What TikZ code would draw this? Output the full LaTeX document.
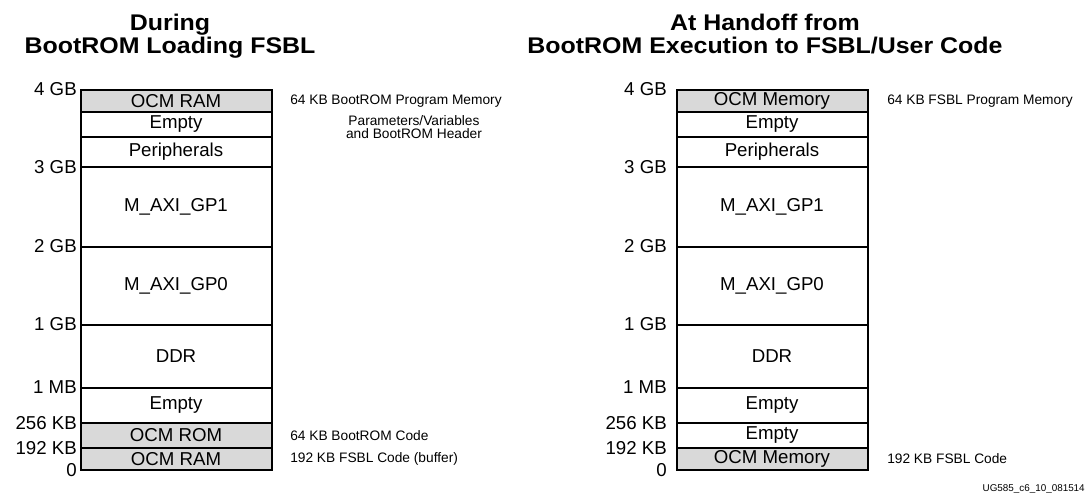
\documentclass[tikz,border=0pt]{standalone}
\usepackage{fontspec}
\setmainfont{Liberation Sans}
\definecolor{ocmgray}{HTML}{D9D9D9}
\tikzset{
  seg/.style={draw=black, line width=1.5pt, inner sep=0pt, outer sep=0pt,
    minimum width=143.25pt, font=\fontsize{14}{16}\selectfont},
  addr/.style={anchor=east, inner sep=0pt, font=\fontsize{14}{16}\selectfont},
  note/.style={anchor=west, inner sep=0pt, font=\fontsize{10.3}{12}\selectfont},
  ttl/.style={anchor=north, inner sep=0pt, font=\fontsize{17}{15.5}\selectfont\bfseries},
}
% \memseg{name}{xcenter}{ytop}{ybottom}{fill}{text}
\newcommand{\memseg}[6]{\node[seg, fill=#5, minimum height={(#4-#3)*0.75pt}] (#1) at (#2,{(#3+#4)/2}) {#6};}
\newcommand{\widetitle}[1]{\scalebox{1.1}[1]{\begin{tabular}{@{}c@{}}#1\end{tabular}}}
\begin{document}
\begin{tikzpicture}[x=0.75pt, y=-0.75pt]
\useasboundingbox (0,0) rectangle (1090,503);
% ---------- titles
\node[ttl] (tL) at (170,14) {\widetitle{During\\BootROM Loading FSBL}};
\node[ttl] (tR) at (765,14) {\widetitle{At Handoff from\\BootROM Execution to FSBL/User Code}};
% ---------- left memory map
\memseg{L1}{176}{90}{112}{ocmgray}{OCM RAM}
\memseg{L2}{176}{112}{137}{white}{Empty}
\memseg{L3}{176}{137}{167}{white}{Peripherals}
\memseg{L4}{176}{167}{246.5}{white}{M\_AXI\_GP1}
\memseg{L5}{176}{246.5}{324.5}{white}{M\_AXI\_GP0}
\memseg{L6}{176}{324.5}{387.5}{white}{DDR}
\memseg{L7}{176}{387.5}{423}{white}{Empty}
\memseg{L8}{176}{423}{448}{ocmgray}{OCM ROM}
\memseg{L9}{176}{448}{470}{ocmgray}{OCM RAM}
% ---------- right memory map
\memseg{R1}{772}{90}{112}{ocmgray}{OCM Memory}
\memseg{R2}{772}{112}{137}{white}{Empty}
\memseg{R3}{772}{137}{167}{white}{Peripherals}
\memseg{R4}{772}{167}{246.5}{white}{M\_AXI\_GP1}
\memseg{R5}{772}{246.5}{324.5}{white}{M\_AXI\_GP0}
\memseg{R6}{772}{324.5}{387.5}{white}{DDR}
\memseg{R7}{772}{387.5}{423}{white}{Empty}
\memseg{R8}{772}{423}{448}{white}{Empty}
\memseg{R9}{772}{448}{470}{ocmgray}{OCM Memory}
% ---------- address labels
\foreach \side/\xx in {L/77, R/667}{
  \node[addr] (\side a4g) at (\xx,89) {4 GB};
  \node[addr] (\side a3g) at (\xx,167) {3 GB};
  \node[addr] (\side a2g) at (\xx,246.5) {2 GB};
  \node[addr] (\side a1g) at (\xx,324.5) {1 GB};
  \node[addr] (\side a1m) at (\xx,387.5) {1 MB};
  \node[addr] (\side a256) at (\xx,423) {256 KB};
  \node[addr] (\side a192) at (\xx,448) {192 KB};
  \node[addr] (\side a0) at (\xx,470) {0};
}
% ---------- notes
\node[note] (nL1) at (290,101) {64 KB BootROM Program Memory};
\node[note, anchor=center, align=center, font=\fontsize{10.3}{9.75}\selectfont] (nL2) at (414,127.5) {Parameters/Variables\\and BootROM Header};
\node[note] (nL3) at (290,435.5) {64 KB BootROM Code};
\node[note] (nL4) at (290,459) {192 KB FSBL Code (buffer)};
\node[note] (nR1) at (887,101) {64 KB FSBL Program Memory};
\node[note] (nR2) at (887,459) {192 KB FSBL Code};
% ---------- figure id
\node[anchor=east, inner sep=0pt, font=\fontsize{7.4}{9}\selectfont] (fig) at (1085,489) {UG585\_c6\_10\_081514};
\end{tikzpicture}
\end{document}
